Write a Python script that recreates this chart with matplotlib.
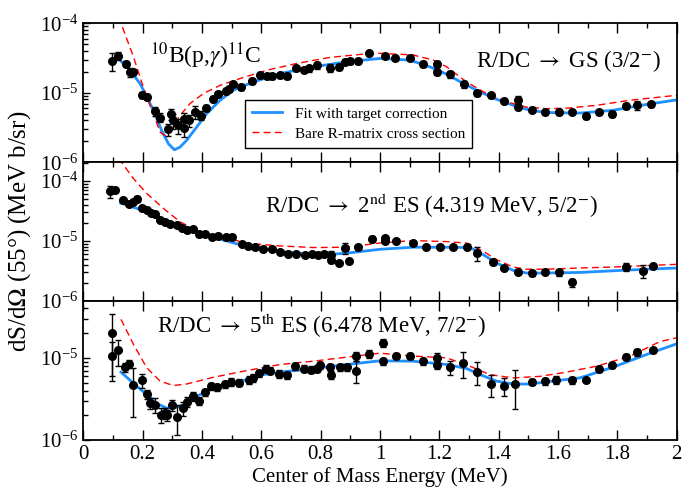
import numpy as np
import matplotlib
matplotlib.use("Agg")
import matplotlib.pyplot as plt
from matplotlib.ticker import LogLocator, MultipleLocator, NullFormatter, FormatStrFormatter

plt.rcParams['font.family'] = ['Liberation Serif', 'DejaVu Serif']
plt.rcParams['mathtext.fontset'] = 'stix'

# ---- panel 1: R/DC -> GS (values in units of 1e-5 MeV b/sr) ----
e1 = [0.098, 0.118, 0.143, 0.157, 0.169, 0.199, 0.214, 0.242, 0.259, 0.284, 0.294, 0.303, 0.318, 0.339, 0.340, 0.357,
      0.376, 0.396, 0.414, 0.436, 0.455, 0.480, 0.491, 0.503, 0.531, 0.567, 0.596, 0.618, 0.635, 0.663, 0.686, 0.717,
      0.744, 0.762, 0.789, 0.831, 0.863, 0.882, 0.899, 0.927, 0.964, 1.017, 1.050, 1.101, 1.146, 1.191, 1.193, 1.236,
      1.283, 1.328, 1.373, 1.419, 1.464, 1.464, 1.511, 1.556, 1.603, 1.648, 1.693, 1.738, 1.783, 1.829, 1.865, 1.912]
y1 = [2.9, 3.4, 2.6, 2.0, 2.0, 0.94, 0.87, 0.55, 0.44, 0.30, 0.49, 0.40, 0.34, 0.42, 0.31, 0.40,
      0.53, 0.47, 0.61, 0.81, 0.95, 1.05, 1.15, 1.33, 1.21, 1.47, 1.79, 1.73, 1.73, 1.79, 1.73, 2.24,
      2.16, 2.24, 2.5, 2.3, 2.36, 2.8, 2.85, 2.85, 3.7, 3.4, 3.2, 3.2, 2.6, 2.6, 2.0, 1.85,
      1.33, 0.99, 0.92, 0.76, 0.79, 0.62, 0.57, 0.53, 0.53, 0.53, 0.47, 0.53, 0.49, 0.64, 0.66, 0.68]
err1 = [0.30, 0.12, 0.10, 0.15, 0.10, 0.10, 0.10, 0.15,
        0.15, 0.20, 0.18, 0.25, 0.25, 0.20, 0.25, 0.20,
        0.20, 0.15, 0.10, 0.10, 0.10, 0.10, 0.10, 0.08,
        0.10, 0.10, 0.08, 0.08, 0.08, 0.08, 0.08, 0.08,
        0.08, 0.10, 0.12, 0.12, 0.10, 0.08, 0.08, 0.08,
        0.08, 0.08, 0.08, 0.08, 0.10, 0.10, 0.10, 0.12,
        0.12, 0.08, 0.08, 0.08, 0.12, 0.10, 0.08, 0.08,
        0.10, 0.08, 0.10, 0.08, 0.10, 0.10, 0.15, 0.08]
fit1_e = [0.126, 0.157, 0.191, 0.214, 0.236, 0.264, 0.287, 0.307, 0.326, 0.348, 0.382, 0.416, 0.461, 0.506, 0.573, 0.663,
          0.775, 0.888, 1.0, 1.101, 1.168, 1.225, 1.281, 1.337, 1.393, 1.449, 1.505, 1.562, 1.674, 1.786, 1.899, 2.0]
fit1_y = [2.88, 2.11, 1.36, 0.87, 0.56, 0.287, 0.184, 0.151, 0.165, 0.206, 0.32, 0.50, 0.78, 1.09, 1.43, 1.89,
          2.36, 2.79, 3.12, 2.95, 2.36, 1.85, 1.36, 1.03, 0.805, 0.66, 0.56, 0.52, 0.51, 0.56, 0.68, 0.79]
bare1_e = [0.120, 0.127, 0.169, 0.202, 0.231, 0.259, 0.275, 0.298, 0.326, 0.36, 0.404, 0.461, 0.528, 0.618, 0.719,
           0.831, 0.944, 1.0, 1.112, 1.18, 1.225, 1.292, 1.36, 1.427, 1.494, 1.562, 1.629, 1.73, 1.843, 2.0]
bare1_y = [12.5, 10.0, 3.3, 1.21, 0.56, 0.27, 0.243, 0.304, 0.47, 0.70, 0.97, 1.28, 1.60, 2.11, 2.64,
           3.23, 3.6, 3.7, 3.5, 2.95, 2.36, 1.43, 0.97, 0.74, 0.62, 0.59, 0.60, 0.66, 0.78, 0.92]

# ---- panel 2: R/DC -> 2nd ES ----
e2 = [0.090, 0.107, 0.135, 0.155, 0.166, 0.180, 0.197, 0.214, 0.228, 0.242, 0.259, 0.275, 0.292, 0.315, 0.332, 0.348,
      0.371, 0.391, 0.410, 0.433, 0.455, 0.480, 0.502, 0.534, 0.556, 0.579, 0.604, 0.635, 0.663, 0.691, 0.717, 0.747,
      0.770, 0.792, 0.811, 0.834, 0.834, 0.861, 0.882, 0.895, 0.927, 0.973, 1.017, 1.017, 1.054, 1.112, 1.155, 1.202,
      1.247, 1.292, 1.328, 1.382, 1.419, 1.464, 1.511, 1.556, 1.603, 1.648, 1.829, 1.885, 1.921]
y2 = [6.8, 7.0, 4.9, 4.1, 4.5, 5.1, 3.5, 3.3, 2.96, 2.78, 2.24, 2.1, 1.92, 1.87, 1.63, 1.53,
      1.58, 1.32, 1.32, 1.16, 1.22, 1.15, 1.19, 0.90, 0.83, 0.79, 0.75, 0.74, 0.67, 0.61, 0.61, 0.59,
      0.61, 0.59, 0.62, 0.48, 0.59, 0.43, 0.76, 0.46, 0.79, 1.09, 1.12, 1.02, 1.02, 0.92, 0.81, 0.81,
      0.81, 0.81, 0.63, 0.45, 0.356, 0.31, 0.294, 0.31, 0.30, 0.206, 0.37, 0.32, 0.39]
err2 = [0.22, 0.05, 0.06, 0.06, 0.06, 0.12, 0.05, 0.05,
        0.05, 0.05, 0.05, 0.05, 0.05, 0.05, 0.05, 0.05,
        0.05, 0.12, 0.05, 0.05, 0.05, 0.08, 0.08, 0.05,
        0.05, 0.05, 0.05, 0.08, 0.05, 0.05, 0.05, 0.05,
        0.05, 0.05, 0.05, 0.10, 0.15, 0.08, 0.20, 0.08,
        0.08, 0.12, 0.10, 0.05, 0.08, 0.06, 0.06, 0.05,
        0.05, 0.06, 0.25, 0.10, 0.06, 0.10, 0.10, 0.06,
        0.12, 0.15, 0.15, 0.25, 0.08]
fit2_e = [0.126, 0.214, 0.326, 0.438, 0.551, 0.663, 0.775, 0.83, 0.888, 1.0, 1.112,
          1.225, 1.304, 1.349, 1.393, 1.449, 1.494, 1.562, 1.674, 1.786, 1.899, 2.0]
fit2_y = [4.3, 3.08, 1.74, 1.16, 0.81, 0.67, 0.598, 0.60, 0.63, 0.73, 0.79,
          0.79, 0.78, 0.59, 0.43, 0.325, 0.294, 0.294, 0.30, 0.32, 0.34, 0.356]
bare2_e = [0.120, 0.129, 0.169, 0.214, 0.27, 0.326, 0.382, 0.438, 0.494, 0.551, 0.663, 0.775, 0.888,
           1.0, 1.112, 1.225, 1.296, 1.349, 1.393, 1.449, 1.494, 1.562, 1.674, 1.786, 1.899, 2.0]
bare2_y = [24, 20.5, 11, 6.2, 3.5, 2.1, 1.49, 1.27, 1.09, 0.92, 0.83, 0.78, 0.79,
           0.93, 1.02, 0.98, 0.92, 0.67, 0.49, 0.37, 0.34, 0.34, 0.356, 0.37, 0.39, 0.41]

# ---- panel 3: R/DC -> 5th ES ----
e3 = [0.096, 0.098, 0.118, 0.141, 0.155, 0.169, 0.197, 0.214, 0.225, 0.242, 0.262, 0.275, 0.283, 0.298, 0.317, 0.337,
      0.351, 0.371, 0.390, 0.410, 0.429, 0.450, 0.478, 0.498, 0.525, 0.557, 0.573, 0.592, 0.615, 0.629, 0.660, 0.688,
      0.714, 0.744, 0.766, 0.789, 0.798, 0.831, 0.834, 0.865, 0.888, 0.919, 0.919, 0.964, 1.009, 1.009, 1.054, 1.101,
      1.146, 1.191, 1.191, 1.236, 1.281, 1.328, 1.373, 1.418, 1.455, 1.511, 1.556, 1.593, 1.646, 1.693, 1.738, 1.783,
      1.829, 1.865, 1.919]
y3 = [1.05, 2.02, 1.23, 0.77, 0.85, 0.47, 0.53, 0.36, 0.28, 0.268, 0.202, 0.212, 0.202, 0.268, 0.193, 0.244,
      0.294, 0.34, 0.30, 0.38, 0.45, 0.44, 0.48, 0.51, 0.50, 0.54, 0.57, 0.65, 0.74, 0.70, 0.64, 0.61,
      0.79, 0.74, 0.72, 0.74, 0.81, 0.77, 0.625, 0.77, 0.77, 1.05, 0.70, 1.12, 1.53, 0.91, 1.05, 1.05,
      0.91, 1.0, 0.81, 0.77, 0.87, 0.675, 0.48, 0.46, 0.48, 0.51, 0.52, 0.54, 0.53, 0.53, 0.74, 0.81,
      1.02, 1.17, 1.23]
err3 = [0.50, 0.70, 0.35, 0.12, 0.12, 0.60, 0.20, 0.12,
        0.15, 0.20, 0.20, 0.15, 0.15, 0.15, 0.40, 0.20,
        0.15, 0.12, 0.12, 0.10, 0.10, 0.10, 0.10, 0.10,
        0.10, 0.10, 0.10, 0.10, 0.10, 0.10, 0.10, 0.10,
        0.10, 0.10, 0.10, 0.10, 0.10, 0.10, 0.12, 0.10,
        0.10, 0.12, 0.30, 0.12, 0.12, 0.10, 0.08, 0.08,
        0.10, 0.15, 0.10, 0.20, 0.35, 0.30, 0.30, 0.25,
        0.50, 0.08, 0.10, 0.10, 0.10, 0.05, 0.08, 0.08,
        0.08, 0.10, 0.06]
fit3_e = [0.127, 0.169, 0.214, 0.247, 0.281, 0.303, 0.337, 0.382, 0.439, 0.495, 0.551, 0.607, 0.663, 0.775,
          0.888, 1.0, 1.112, 1.225, 1.292, 1.337, 1.393, 1.449, 1.505, 1.562, 1.674, 1.786, 1.899, 2.0]
fit3_y = [0.67, 0.49, 0.356, 0.28, 0.244, 0.244, 0.268, 0.34, 0.43, 0.50, 0.54, 0.625, 0.67, 0.74,
          0.83, 0.92, 0.91, 0.83, 0.74, 0.625, 0.52, 0.48, 0.48, 0.51, 0.57, 0.77, 1.1, 1.48]
bare3_e = [0.127, 0.169, 0.214, 0.259, 0.303, 0.348, 0.439, 0.551, 0.663, 0.775, 0.888, 1.0,
           1.112, 1.225, 1.303, 1.37, 1.449, 1.539, 1.629, 1.73, 1.843, 1.944, 2.0]
bare3_y = [2.94, 1.46, 0.755, 0.52, 0.46, 0.48, 0.58, 0.70, 0.83, 0.91, 1.02, 1.14,
           1.05, 1.0, 0.79, 0.625, 0.57, 0.595, 0.67, 0.79, 1.05, 1.58, 1.75]

panels = [
    (e1, y1, err1, fit1_e, fit1_y, bare1_e, bare1_y, (1e-6, 1e-4)),
    (e2, y2, err2, fit2_e, fit2_y, bare2_e, bare2_y, (1e-6, 2.06e-4)),
    (e3, y3, err3, fit3_e, fit3_y, bare3_e, bare3_y, (1e-6, 4.9e-5)),
]
labels = [
    r'R/DC $\rightarrow$ GS (3/2$^{-}$)',
    r'R/DC $\rightarrow$ 2$^{\mathrm{nd}}$ ES (4.319 MeV, 5/2$^{-}$)',
    r'R/DC $\rightarrow$ 5$^{\mathrm{th}}$ ES (6.478 MeV, 7/2$^{-}$)',
]
label_pos = [(0.662, 0.686), (0.307, 0.636), (0.124, 0.771)]

BLUE = '#1E90FF'
fig, axes = plt.subplots(3, 1, sharex=True, figsize=(6.84, 4.93), dpi=100,
                         gridspec_kw=dict(hspace=0))
fig.subplots_adjust(left=0.1218, right=0.9893, top=0.9527, bottom=0.1075)

for ax, (e, y, er, fe, fy, be, by, ylim), lab, pos in zip(axes, panels, labels, label_pos):
    y = np.array(y) * 1e-5
    ax.errorbar(e, y, yerr=y * np.array(er), fmt='o', color='k', ms=5.5,
                elinewidth=1, capsize=2.5, capthick=1, zorder=3)
    ln_fit, = ax.plot(fe, np.array(fy) * 1e-5, color=BLUE, lw=2, zorder=2,
                      label='Fit with target correction')
    ln_bare, = ax.plot(be, np.array(by) * 1e-5, color='red', lw=1, ls=(0, (5, 3)),
                       zorder=2, label='Bare R-matrix cross section')
    ax.set_yscale('log')
    ax.set_ylim(*ylim)
    ax.set_xlim(0, 2)
    ax.xaxis.set_major_locator(MultipleLocator(0.2))
    ax.xaxis.set_minor_locator(MultipleLocator(0.1))
    ax.xaxis.set_major_formatter(FormatStrFormatter('%g'))
    ax.yaxis.set_major_locator(LogLocator(base=10, numticks=10))
    ax.yaxis.set_minor_locator(LogLocator(base=10, subs=np.arange(2, 10), numticks=10))
    ax.yaxis.set_minor_formatter(NullFormatter())
    ax.tick_params(axis='x', which='both', direction='in', top=True, labelsize=15)
    ax.tick_params(axis='x', which='major', length=7, width=1)
    ax.tick_params(axis='x', which='minor', length=3.5, width=1)
    ax.tick_params(axis='y', which='both', direction='in', right=False, labelsize=15)
    ax.tick_params(axis='y', which='major', length=5, width=1)
    ax.tick_params(axis='y', which='minor', length=3.5, width=1)
    for s in ax.spines.values():
        s.set_linewidth(1.3)
    ax.text(pos[0], pos[1], lab, transform=ax.transAxes, fontsize=16.5, va='baseline', ha='left')

axes[0].text(0.112, 0.715, r'$^{10}$B(p,$\gamma$)$^{11}$C', transform=axes[0].transAxes,
             fontsize=17, va='baseline', ha='left')
leg = axes[0].legend(handles=[ln_fit, ln_bare], loc='upper left', bbox_to_anchor=(0.2725, 0.446),
                     fontsize=11, fancybox=False, edgecolor='k', framealpha=1,
                     borderaxespad=0, handlelength=2.0, borderpad=0.45, labelspacing=0.4)
leg.get_frame().set_linewidth(1)

axes[2].set_xlabel('Center of Mass Energy (MeV)', fontsize=15, labelpad=2)
fig.text(0.029, 0.53, r'dS/d$\Omega$ (55°) (MeV b/sr)', rotation=90, fontsize=18,
         va='center', ha='center')

fig.savefig('out.png', dpi=100)
